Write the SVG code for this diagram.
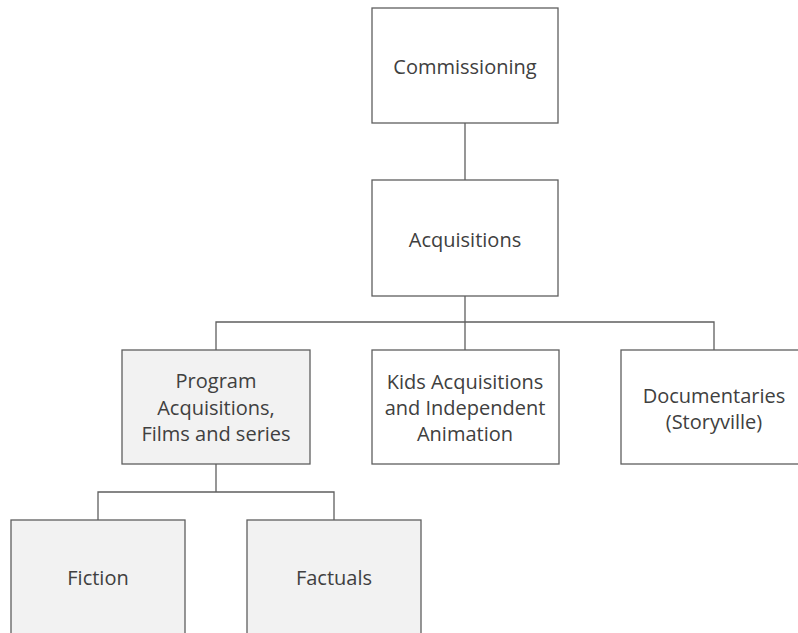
<svg xmlns="http://www.w3.org/2000/svg" width="798" height="633" viewBox="0 0 798 633">
<style>
.box{fill:#ffffff;stroke:#5f5f5f;stroke-width:1.3}
.grey{fill:#f2f2f2}
.t{font-family:"Open Sans","Liberation Sans",sans-serif;font-size:20px;fill:#404040;text-anchor:middle;dominant-baseline:central}
.c{fill:none;stroke:#5f5f5f;stroke-width:1.3}
</style>
<rect width="798" height="633" fill="#ffffff"/>
<g id="connectors">
<path class="c" d="M465 123V180"/>
<path class="c" d="M465 296V350"/>
<path class="c" d="M216 350V322H714V350"/>
<path class="c" d="M216 464V492"/>
<path class="c" d="M98 520V492H334V520"/>
</g>
<g id="commissioning">
<rect class="box" x="372" y="8" width="186" height="115"/>
<text class="t" x="465" y="66">Commissioning</text>
</g>
<g id="acquisitions">
<rect class="box" x="372" y="180" width="186" height="116"/>
<text class="t" x="465" y="239">Acquisitions</text>
</g>
<g id="program">
<rect class="box grey" x="122" y="350" width="188" height="114"/>
<text class="t" x="216" y="380">Program</text>
<text class="t" x="216" y="407">Acquisitions,</text>
<text class="t" x="216" y="433">Films and series</text>
</g>
<g id="kids">
<rect class="box" x="372" y="350" width="187" height="114"/>
<text class="t" x="465" y="381">Kids Acquisitions</text>
<text class="t" x="465" y="407">and Independent</text>
<text class="t" x="465" y="433">Animation</text>
</g>
<g id="documentaries">
<rect class="box" x="621" y="350" width="186" height="114"/>
<text class="t" x="714" y="395">Documentaries</text>
<text class="t" x="714" y="421">(Storyville)</text>
</g>
<g id="fiction">
<rect class="box grey" x="11" y="520" width="174" height="120"/>
<text class="t" x="98" y="577">Fiction</text>
</g>
<g id="factuals">
<rect class="box grey" x="247" y="520" width="174" height="120"/>
<text class="t" x="334" y="577">Factuals</text>
</g>
</svg>
